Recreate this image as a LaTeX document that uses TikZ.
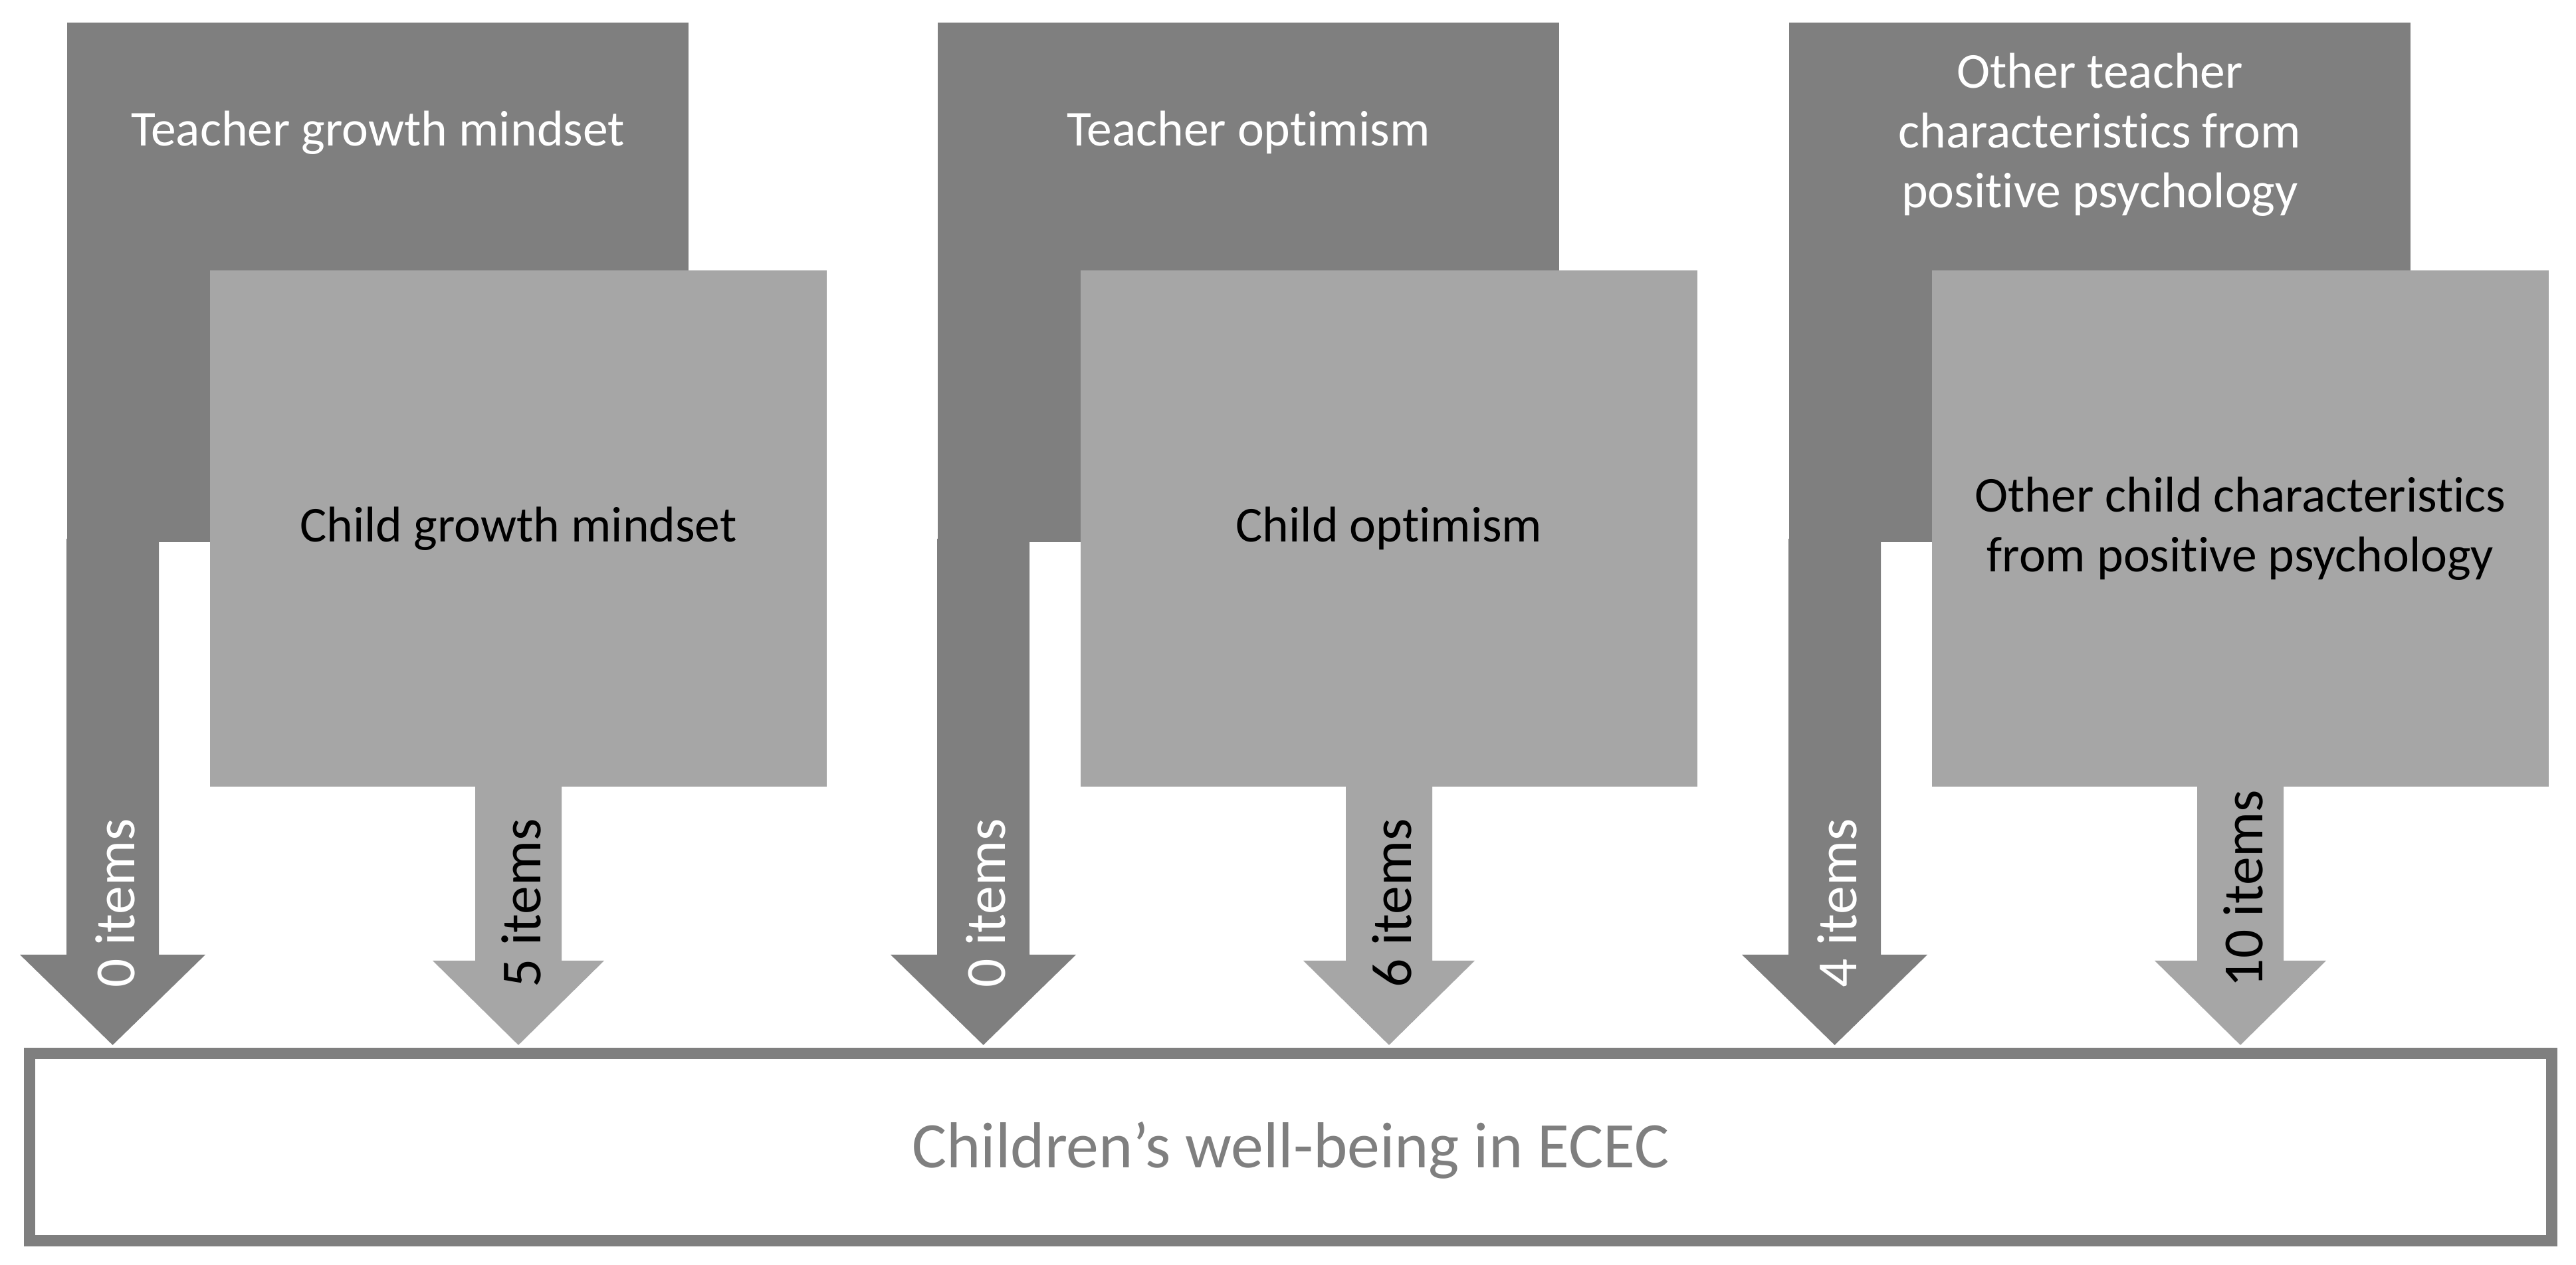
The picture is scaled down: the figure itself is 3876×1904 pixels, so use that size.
\documentclass[tikz,border=0pt]{standalone}
\usepackage{fontspec}
\setmainfont{Carlito}[Ligatures=NoCommon]
\usetikzlibrary{calc}
\definecolor{tdark}{HTML}{7F7F7F}
\definecolor{clight}{HTML}{A6A6A6}
\begin{document}
\begin{tikzpicture}[x=0.01cm,y=-0.01cm,
  tbox/.style={rectangle, fill=tdark, inner sep=0pt, minimum width=9.35cm, minimum height=7.82cm},
  cbox/.style={rectangle, fill=clight, inner sep=0pt, minimum width=9.28cm, minimum height=7.77cm,
    font=\fontsize{21.5}{25.6}\selectfont, text=black, align=center},
  tlabel/.style={font=\fontsize{21.5}{25.6}\selectfont, text=white, align=center, inner sep=0pt},
  ilabel/.style={font=\fontsize{24.3}{29}\selectfont, rotate=90, anchor=base west, inner sep=0pt},
  tarrow/.style={fill=tdark},
  carrow/.style={fill=clight},
  bigbox/.style={rectangle, draw=tdark, line width=0.17cm, fill=white, inner sep=0pt,
    minimum width=37.93cm, minimum height=2.81cm},
  bigtext/.style={text=tdark, font=\fontsize{27.8}{33}\selectfont, inner sep=0pt, anchor=base}
]
\useasboundingbox[fill=white] (0,0) rectangle (3876,1904);

% bottom box
\node[bigbox] (bot) at (1942,1726.5) {};
\node[bigtext] (bottxt) at ($(bot.center)+(0,30.5)$) {Children’s well-being in ECEC};

% teacher boxes
\node[tbox] (t1) at (568.5,425) {};
\node[tbox] (t2) at (1878.5,425) {};
\node[tbox] (t3) at (3159.5,425) {};

% teacher arrows
\foreach \i in {1,2,3} {
  \fill[tarrow] ($(t\i.south west)+(0,-6)$) -- ++(0,626) -- ++(-70,0) -- ++(139.5,136)
    -- ++(139.5,-136) -- ++(-70,0) -- ++(0,-626) -- cycle;
}

% teacher labels
\node[tlabel, anchor=base] (tl1) at ($(t1.north)+(0,186)$) {Teacher growth mindset};
\node[tlabel, anchor=base] (tl2) at ($(t2.north)+(0,186)$) {Teacher optimism};
\node[tlabel, anchor=center] (tl3) at ($(t3.north)+(0,170)$) {Other teacher\\characteristics from\\positive psychology};

% child boxes
\node[cbox] (c1) at (780,795.5) {Child growth mindset};
\node[cbox] (c2) at (2090,795.5) {Child optimism};
\node[cbox] (c3) at (3371,795.5) {Other child characteristics\\from positive psychology};

% child arrows
\foreach \i in {1,2,3} {
  \fill[carrow] ($(c\i.south)+(-65,-6)$) -- ++(0,267) -- ++(-64,0) -- ++(129,127)
    -- ++(129,-127) -- ++(-64,0) -- ++(0,-267) -- cycle;
}

% item labels
\node[ilabel, text=white] (i1) at ($(t1.south west)+(102.5,670)$) {0 items};
\node[ilabel, text=black] (i2) at ($(c1.south)+(33,302)$) {5 items};
\node[ilabel, text=white] (i3) at ($(t2.south west)+(102.5,670)$) {0 items};
\node[ilabel, text=black] (i4) at ($(c2.south)+(33,302)$) {6 items};
\node[ilabel, text=white] (i5) at ($(t3.south west)+(102.5,670)$) {4 items};
\node[ilabel, text=black] (i6) at ($(c3.south)+(33,302)$) {10 items};
\end{tikzpicture}
\end{document}
